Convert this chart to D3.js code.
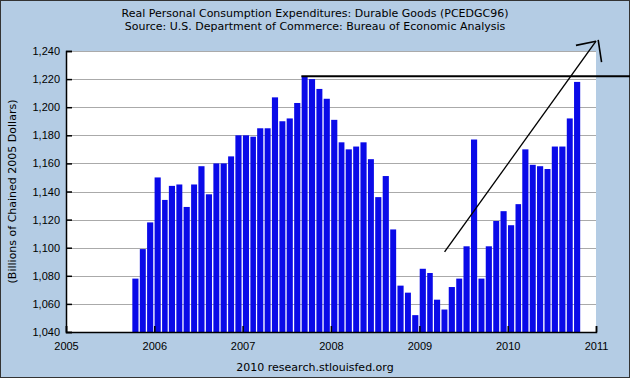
<!DOCTYPE html>
<html>
<head>
<meta charset="utf-8">
<script src="https://cdn.jsdelivr.net/npm/d3@7"></script>
<style>
  html, body { margin: 0; padding: 0; background: #b4cce4; }
  svg { display: block; }
</style>
</head>
<body>
<div id="chart"></div>
<script>
// monthly values, Oct 2005 .. Oct 2010 (billions of chained 2005 dollars)
const startMonth = '2005-10';
const values = [
  1078, 1099, 1118,
  1150, 1134, 1144, 1145, 1129, 1145, 1158, 1138, 1160, 1160, 1165, 1180,
  1180, 1179, 1185, 1185, 1207, 1190, 1192, 1203, 1222, 1220, 1213, 1206,
  1191, 1175, 1170, 1172, 1175, 1163, 1136, 1151, 1113, 1073, 1068, 1052,
  1085, 1082, 1063, 1056, 1072, 1078, 1101, 1177, 1078, 1101, 1119, 1126,
  1116, 1131, 1170, 1159, 1158, 1156, 1172, 1172, 1192, 1218
];
const yTicks = [1040, 1060, 1080, 1100, 1120, 1140, 1160, 1180, 1200, 1220, 1240];
const yearTicks = [2005, 2006, 2007, 2008, 2009, 2010, 2011];

// hand drawn notes on the picture, in data units
const peakLine = [['2007-09-01', 1222], ['2011-06-01', 1222]];
const trendArrow = [['2009-04-15', 1097], ['2011-01-01', 1247]];
const arrowHead = [
  [['2010-10-10', 1244], ['2011-01-01', 1247]],
  [['2011-01-10', 1248], ['2011-01-24', 1232]]
];

const width = 630, height = 378;
const margin = {top: 51, right: 34, bottom: 46, left: 66};

const parse = d3.timeParse('%Y-%m-%d');
const months = values.map((v, i) => ({
  date: d3.timeMonth.offset(parse(startMonth + '-01'), i),
  value: v
}));

const svg = d3.select('#chart')
  .append('svg')
  .attr('width', width)
  .attr('height', height)
  .style('font-family', 'Verdana, "DejaVu Sans", sans-serif');

svg.append('rect')
  .attr('x', 0.5).attr('y', 0.5)
  .attr('width', width - 1).attr('height', height - 1)
  .attr('fill', '#b4cce4')
  .attr('stroke', '#333');

const x = d3.scaleTime()
  .domain([new Date(2005, 0, 1), new Date(2011, 0, 1)])
  .range([margin.left, width - margin.right]);

const y = d3.scaleLinear()
  .domain([1040, 1240])
  .range([height - margin.bottom, margin.top]);

// plot area
svg.append('rect')
  .attr('x', x.range()[0]).attr('y', y.range()[1])
  .attr('width', x.range()[1] - x.range()[0])
  .attr('height', y.range()[0] - y.range()[1])
  .attr('fill', 'white');

// gridlines
svg.append('g')
  .selectAll('line')
  .data(yTicks)
  .join('line')
  .attr('x1', x.range()[0]).attr('x2', x.range()[1])
  .attr('y1', d => Math.round(y(d)) + 0.5).attr('y2', d => Math.round(y(d)) + 0.5)
  .attr('stroke', '#aaa');

// bars
svg.append('g')
  .selectAll('rect')
  .data(months)
  .join('rect')
  .attr('x', d => x(d.date) + 0.3)
  .attr('width', d => (x(d3.timeMonth.offset(d.date, 1)) - x(d.date)) * 0.82)
  .attr('y', d => y(d.value))
  .attr('height', d => y(1040) - y(d.value))
  .attr('fill', '#0a0ae8');

// left axis
const yAxis = svg.append('g')
  .attr('transform', `translate(${x.range()[0]},0)`)
  .call(d3.axisLeft(y).tickValues(yTicks).tickSize(-6).tickPadding(6)
    .tickFormat(d3.format(',')));
yAxis.select('.domain').attr('stroke', '#000').attr('stroke-width', 1.5);
yAxis.selectAll('.tick line').attr('stroke', '#000').attr('stroke-width', 1.5);
yAxis.selectAll('text').attr('font-size', 11).attr('fill', '#000');

// bottom axis
const xAxis = svg.append('g')
  .attr('transform', `translate(0,${y.range()[0]})`)
  .call(d3.axisBottom(x).tickValues(yearTicks.map(yr => new Date(yr, 0, 1)))
    .tickSize(-6).tickPadding(10).tickFormat(d3.timeFormat('%Y')));
xAxis.select('.domain').attr('stroke', '#000').attr('stroke-width', 1.5);
xAxis.selectAll('.tick line').attr('stroke', '#000').attr('stroke-width', 1.5);
xAxis.selectAll('text').attr('font-size', 11).attr('fill', '#000');

// titles
svg.append('text')
  .attr('x', width / 2).attr('y', 17)
  .attr('text-anchor', 'middle')
  .attr('font-size', 11)
  .text('Real Personal Consumption Expenditures: Durable Goods (PCEDGC96)');
svg.append('text')
  .attr('x', width / 2).attr('y', 30)
  .attr('text-anchor', 'middle')
  .attr('font-size', 11)
  .text('Source: U.S. Department of Commerce: Bureau of Economic Analysis');

svg.append('text')
  .attr('transform', `translate(16,${(y.range()[0] + y.range()[1]) / 2}) rotate(-90)`)
  .attr('text-anchor', 'middle')
  .attr('font-size', 11)
  .text('(Billions of Chained 2005 Dollars)');

svg.append('text')
  .attr('x', width / 2).attr('y', 371)
  .attr('text-anchor', 'middle')
  .attr('font-size', 11)
  .text('2010 research.stlouisfed.org');

// annotations
const pt = d => [x(parse(d[0])), y(d[1])];
const line = d3.line();

svg.append('path')
  .attr('d', line(peakLine.map(pt)))
  .attr('stroke', '#000').attr('stroke-width', 2).attr('fill', 'none');

svg.append('path')
  .attr('d', line(trendArrow.map(pt)))
  .attr('stroke', '#000').attr('stroke-width', 1.4).attr('fill', 'none');

svg.selectAll('.head')
  .data(arrowHead)
  .join('path')
  .attr('class', 'head')
  .attr('d', d => line(d.map(pt)))
  .attr('stroke', '#000').attr('stroke-width', 1.6).attr('fill', 'none');
</script>
</body>
</html>
